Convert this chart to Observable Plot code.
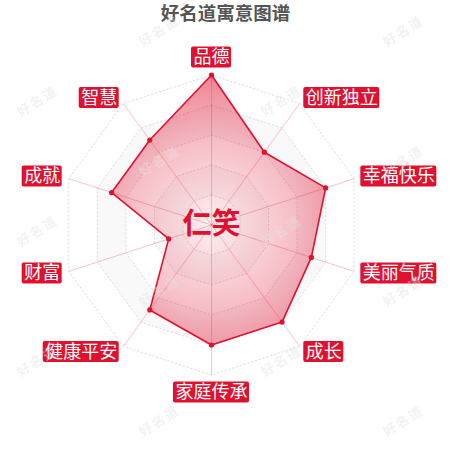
<!DOCTYPE html>
<html><head><meta charset="utf-8">
<script src="https://cdn.jsdelivr.net/npm/d3@7"></script>
<script src="https://cdn.jsdelivr.net/npm/@observablehq/plot@0.6"></script>
<style>html,body{margin:0;padding:0;background:#fff;}</style>
</head><body><div id="chart"></div>
<script>
const title = "好名道寓意图谱";
const nameText = "仁笑";
const categories = ["品德","创新独立","幸福快乐","美丽气质","成长","家庭传承","健康平安","财富","成就","智慧"];
const values = [100, 60, 80, 70, 80, 80, 70, 30, 70, 70];
const maxValue = 100;
const ringLevels = [20, 40, 60, 80, 100];
const watermarkText = "好名道";

const RED = "#e0102f";
const k = 1.5;               // pixels per value unit
const fs = 18;               // label font size
const boxH = 21;
const labelR = 157 / k;
const n = categories.length;
const ang = i => i * 2 * Math.PI / n;

const pts = categories.map((c, i) => ({c, v: values[i], x: values[i] * Math.sin(ang(i)), y: values[i] * Math.cos(ang(i))}));
const spokes = categories.map((c, i) => ({x1: 0, y1: 0, x2: maxValue * Math.sin(ang(i)), y2: maxValue * Math.cos(ang(i))}));
const ringPts = lv => categories.map((c, i) => ({x: lv * Math.sin(ang(i)), y: lv * Math.cos(ang(i))}));

const labels = categories.map((c, i) => {
  const s = Math.sin(ang(i)), co = Math.cos(ang(i));
  const ax = labelR * s, ay = labelR * co;
  const w = (c.length * fs + 4) / k, h = boxH / k;
  let cx = ax, cy = ay;
  if (s > 0.01) cx += w / 2; else if (s < -0.01) cx -= w / 2;
  else if (co > 0) cy += h / 2; else cy -= h / 2;
  return {c, cx, cy, x1: cx - w / 2, x2: cx + w / 2, y1: cy - h / 2, y2: cy + h / 2};
});

const ringFills = ringLevels.slice().reverse().map(lv =>
  Plot.line(ringPts(lv), {x: "x", y: "y", curve: "linear-closed", stroke: "none",
    fill: (ringLevels.indexOf(lv) % 2 === 1) ? "#f9f9f9" : "#ffffff"}));
const ringLines = ringLevels.map(lv =>
  Plot.line(ringPts(lv), {x: "x", y: "y", curve: "linear-closed", stroke: "#dddddd", strokeWidth: 1, strokeDasharray: "1.5,2.5"}));

const plot = Plot.plot({
  width: 450, height: 450, margin: 0,
  x: {domain: [-211 / k, 239 / k], axis: null},
  y: {domain: [-225.5 / k, 224.5 / k], axis: null},
  style: {fontFamily: "'Noto Sans CJK SC', sans-serif", background: "#fff"},
  marks: [
    ...ringFills,
    ...ringLines,
    Plot.link(spokes, {x1: "x1", y1: "y1", x2: "x2", y2: "y2", stroke: RED, strokeOpacity: 0.25, strokeWidth: 1}),
    Plot.line(pts, {x: "x", y: "y", curve: "linear-closed", fill: "url(#areaGrad)", stroke: RED, strokeWidth: 1.6}),
    Plot.dot(pts, {x: "x", y: "y", r: 2.6, fill: RED, stroke: "none"}),
    Plot.text([nameText], {x: () => 0, y: () => 0, text: d => d, fontSize: 29, fontWeight: "bold", fill: RED}),
    Plot.rect(labels, {x1: "x1", x2: "x2", y1: "y1", y2: "y2", fill: RED, rx: 2}),
    Plot.text(labels, {x: "cx", y: "cy", text: "c", fontSize: fs, fill: "#fff"}),
    Plot.text([title], {frameAnchor: "top", dy: 14, text: d => d, lineAnchor: "middle", fontSize: 18.5, fontWeight: "bold", fill: "#555"})
  ]
});

document.getElementById("chart").appendChild(plot);

const sx = plot.scale("x"), sy = plot.scale("y");
const cxp = sx.apply(0), cyp = sy.apply(0), rp = sx.apply(maxValue) - sx.apply(0);
const svg = d3.select(plot);
const defs = svg.insert("defs", ":first-child");
const grad = defs.append("radialGradient").attr("id", "areaGrad").attr("gradientUnits", "userSpaceOnUse")
  .attr("cx", cxp).attr("cy", cyp).attr("r", rp);
grad.append("stop").attr("offset", 0).attr("stop-color", RED).attr("stop-opacity", 0.07);
grad.append("stop").attr("offset", 0.55).attr("stop-color", RED).attr("stop-opacity", 0.27);
grad.append("stop").attr("offset", 1).attr("stop-color", RED).attr("stop-opacity", 0.52);

const pat = defs.append("pattern").attr("id", "wm").attr("patternUnits", "userSpaceOnUse")
  .attr("width", 244).attr("height", 130).attr("x", -23).attr("y", 197);
[[61, 35], [183, 95]].forEach(([px, py]) => {
  pat.append("text").attr("x", 0).attr("y", 0)
    .attr("transform", `translate(${px},${py}) rotate(-32)`)
    .attr("text-anchor", "middle").attr("dominant-baseline", "middle")
    .attr("font-size", 13).attr("font-weight", "bold").attr("fill", "#e2e2e2")
    .attr("font-family", "'Noto Sans CJK SC', sans-serif").attr("letter-spacing", 2)
    .text(watermarkText);
});
svg.append("rect").attr("width", 450).attr("height", 450).attr("fill", "url(#wm)").attr("opacity", 0.45).attr("pointer-events", "none");
</script></body></html>
